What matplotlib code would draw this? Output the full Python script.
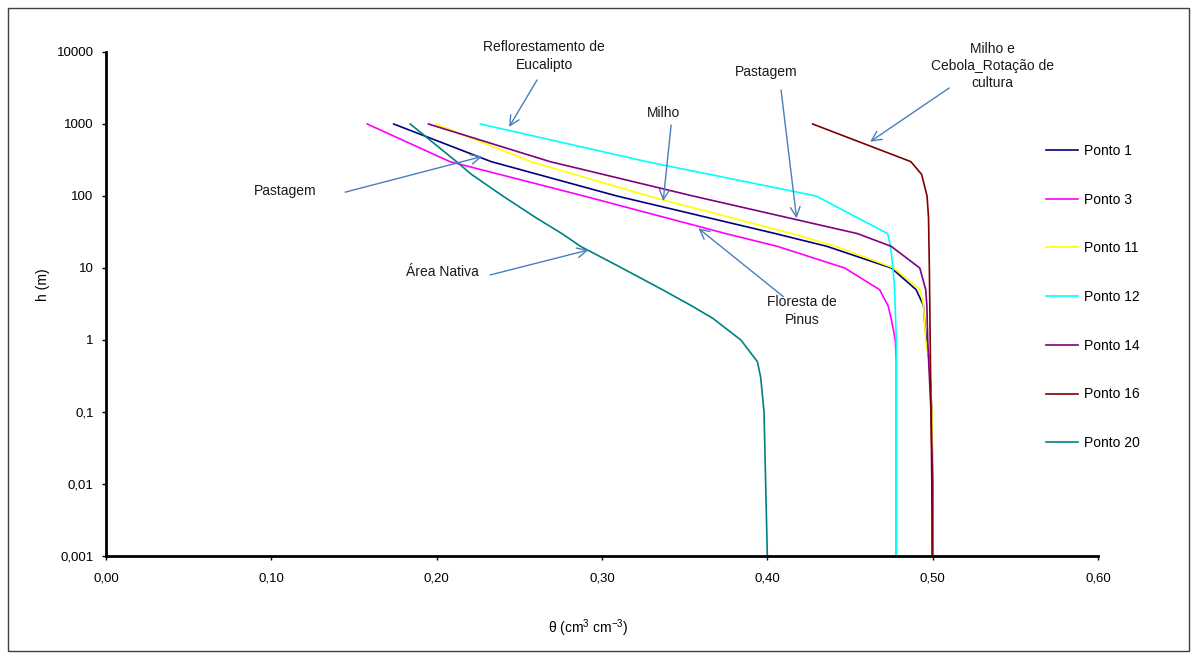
import matplotlib
matplotlib.use("Agg")
import matplotlib.pyplot as plt
from matplotlib.patches import Rectangle

plt.rcParams['font.family'] = ['Liberation Sans', 'DejaVu Sans']
plt.rcParams['mathtext.fontset'] = 'custom'
plt.rcParams['mathtext.rm'] = 'Liberation Sans'

# curvas de retencao: h (m) x theta (cm3 cm-3)
h_p1 = [1000, 300, 100, 30, 20, 10, 5, 3, 2, 1, 0.5, 0.1, 0.01, 0.001]
theta_p1 = [0.174, 0.233, 0.309, 0.405, 0.436, 0.475, 0.490, 0.4945, 0.495, 0.4962, 0.498, 0.4995, 0.5, 0.5]

h_p3 = [1000, 300, 100, 30, 20, 10, 5, 3, 2, 1, 0.5, 0.1, 0.01, 0.001]
theta_p3 = [0.158, 0.208, 0.289, 0.375, 0.406, 0.4468, 0.4679, 0.473, 0.4749, 0.4774, 0.478, 0.478, 0.478, 0.478]

h_p11 = [1000, 300, 100, 30, 20, 10, 5, 3, 2, 1, 0.5, 0.1, 0.01, 0.001]
theta_p11 = [0.1996, 0.257, 0.328, 0.415, 0.4414, 0.4765, 0.4925, 0.4945, 0.495, 0.4958, 0.498, 0.4995, 0.5, 0.5]

h_p12 = [1000, 300, 100, 30, 20, 10, 5, 1, 0.1, 0.01, 0.001]
theta_p12 = [0.2265, 0.327, 0.4295, 0.4728, 0.4745, 0.476, 0.477, 0.478, 0.478, 0.478, 0.478]

h_p14 = [1000, 300, 100, 30, 20, 10, 5, 3, 1, 0.1, 0.01, 0.001]
theta_p14 = [0.195, 0.2686, 0.355, 0.4546, 0.4749, 0.4922, 0.4958, 0.4965, 0.497, 0.499, 0.5, 0.5]

h_p16 = [1000, 300, 200, 100, 50, 10, 1, 0.1, 0.01, 0.001]
theta_p16 = [0.4274, 0.4868, 0.4933, 0.4966, 0.4975, 0.498, 0.4985, 0.499, 0.4995, 0.4997]

h_p20 = [1000, 300, 200, 100, 50, 30, 20, 10, 5, 3, 2, 1, 0.5, 0.3, 0.1, 0.01, 0.001]
theta_p20 = [0.184, 0.212, 0.221, 0.240, 0.260, 0.2758, 0.287, 0.312, 0.3365, 0.354, 0.367, 0.384, 0.394, 0.396, 0.398, 0.399, 0.400]

series = [
    ("Ponto 1", theta_p1, h_p1, "#000080"),
    ("Ponto 3", theta_p3, h_p3, "#FF00FF"),
    ("Ponto 11", theta_p11, h_p11, "#FFFF00"),
    ("Ponto 12", theta_p12, h_p12, "#00FFFF"),
    ("Ponto 14", theta_p14, h_p14, "#800080"),
    ("Ponto 16", theta_p16, h_p16, "#800000"),
    ("Ponto 20", theta_p20, h_p20, "#008080"),
]

x_ticks = [0.0, 0.1, 0.2, 0.3, 0.4, 0.5, 0.6]
x_ticklabels = ["0,00", "0,10", "0,20", "0,30", "0,40", "0,50", "0,60"]
y_ticks = [0.001, 0.01, 0.1, 1, 10, 100, 1000, 10000]
y_ticklabels = ["0,001", "0,01", "0,1", "1", "10", "100", "1000", "10000"]

# (texto, posicao do texto, inicio da seta, ponta da seta) em (theta, h)
notes = [
    ("Reflorestamento de\nEucalipto", (0.265, 8800), (0.2607, 4084), (0.2438, 908)),
    ("Milho", (0.337, 1422), (0.3418, 969), (0.337, 85)),
    ("Pastagem", (0.3993, 5225), (0.4083, 2966), (0.4177, 49)),
    ("Milho e\nCebola_Rotação de\ncultura", (0.536, 6390), (0.510, 3162), (0.4622, 568)),
    ("Pastagem", (0.1086, 117), (0.1446, 113), (0.2275, 354)),
    ("Área Nativa", (0.2036, 8.7), (0.2323, 8.0), (0.2918, 17.8)),
    ("Floresta de\nPinus", (0.421, 2.53), (0.4097, 4.0), (0.3583, 35.6)),
]

W, H = 1194, 661
fig = plt.figure(figsize=(W / 100, H / 100), dpi=100)
ax = fig.add_axes([106 / W, 1 - 556 / H, (1098 - 106) / W, (556 - 52) / H])

for name, th, hh, col in series:
    ax.plot(th, hh, color=col, lw=1.2, label=name)

ax.set_yscale("log")
ax.set_xlim(0, 0.6)
ax.set_ylim(0.001, 10000)
ax.set_xticks(x_ticks)
ax.set_xticklabels(x_ticklabels)
ax.set_yticks(y_ticks)
ax.set_yticklabels(y_ticklabels)
ax.minorticks_off()
ax.tick_params(axis="both", labelsize=9.5, length=3, width=1, color="black")
ax.tick_params(axis="y", pad=6)
ax.tick_params(axis="x", pad=9)

for s in ["top", "right"]:
    ax.spines[s].set_visible(False)
for s in ["left", "bottom"]:
    ax.spines[s].set_linewidth(2)

ax.set_xlabel(r"θ (cm$^3$ cm$^{-3}$)", fontsize=10)
ax.xaxis.set_label_coords((588 - 106) / 992, (556 - 628) / 504)
ax.xaxis.label.set_va("center")
ax.set_ylabel("h (m)", fontsize=10)
ax.yaxis.set_label_coords((43 - 106) / 992, (556 - 285) / 504)
ax.yaxis.label.set_va("center")

for txt, pos, start, tip in notes:
    ax.text(pos[0], pos[1], txt, ha="center", va="center", fontsize=10,
            color="#1a1a1a", linespacing=1.3, clip_on=False)
    ax.annotate("", xy=tip, xytext=start, annotation_clip=False,
                arrowprops=dict(arrowstyle="->,head_length=0.7,head_width=0.35",
                                color="#4A7EBB", lw=1.0, shrinkA=0, shrinkB=0))

ax.legend(loc="center left", bbox_to_anchor=(1039 / W, 1 - 297 / H),
          bbox_transform=fig.transFigure, frameon=False, borderpad=0,
          handlelength=2.3, handletextpad=0.45, labelspacing=2.5, fontsize=10)

fig.patches.append(Rectangle((8 / W, 1 - 651 / H), (1189 - 8) / W, (651 - 8) / H,
                             transform=fig.transFigure, fill=False,
                             edgecolor="#404040", lw=1))

fig.savefig("out.png", dpi=100)
